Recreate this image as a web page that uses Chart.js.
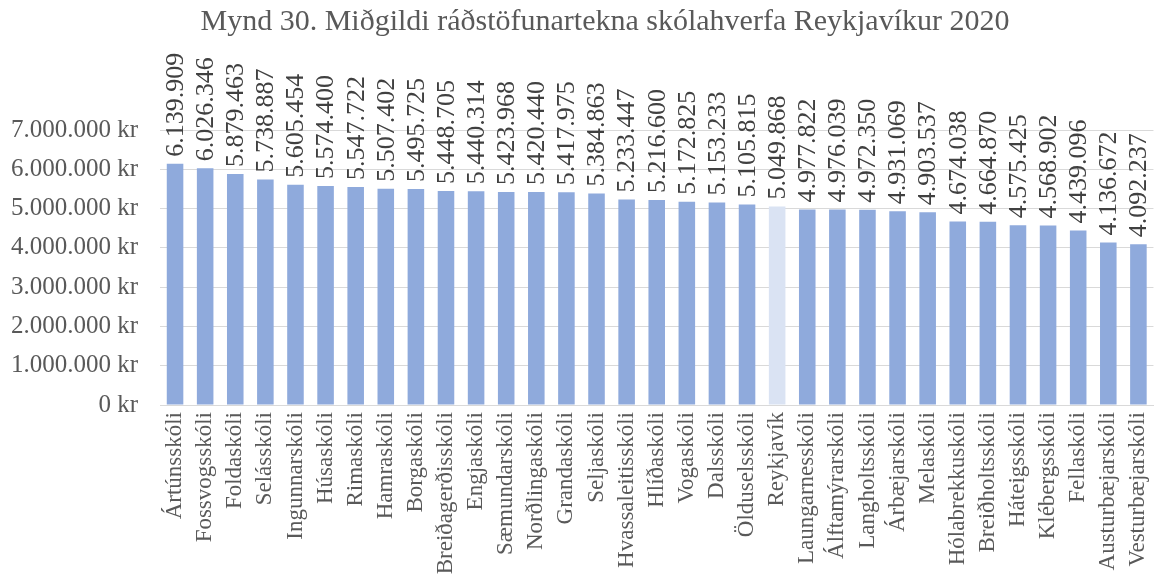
<!DOCTYPE html>
<html>
<head>
<meta charset="utf-8">
<script src="https://cdn.jsdelivr.net/npm/chart.js@4.4.0/dist/chart.umd.min.js"></script>
<style>
  html, body { margin: 0; padding: 0; background: #fff; }
  #wrap { width: 1173px; height: 578px; }
</style>
</head>
<body>
<div id="wrap"><canvas id="chart"></canvas></div>
<script>
// --- GÖGN ---
const titill = 'Mynd 30. Miðgildi ráðstöfunartekna skólahverfa Reykjavíkur 2020';
const skolar = [
  'Ártúnsskóli', 'Fossvogsskóli', 'Foldaskóli', 'Selásskóli', 'Ingunnarskóli', 'Húsaskóli',
  'Rimaskóli', 'Hamraskóli', 'Borgaskóli', 'Breiðagerðisskóli', 'Engjaskóli', 'Sæmundarskóli',
  'Norðlingaskóli', 'Grandaskóli', 'Seljaskóli', 'Hvassaleitisskóli', 'Hlíðaskóli', 'Vogaskóli',
  'Dalsskóli', 'Ölduselsskóli', 'Reykjavík', 'Laungarnesskóli', 'Álftamýrarskóli', 'Langholtsskóli',
  'Árbæjarskóli', 'Melaskóli', 'Hólabrekkuskóli', 'Breiðholtsskóli', 'Háteigsskóli', 'Klébergsskóli',
  'Fellaskóli', 'Austurbæjarskóli', 'Vesturbæjarskóli'
];
const midgildi = [
  6139909, 6026346, 5879463, 5738887, 5605454, 5574400,
  5547722, 5507402, 5495725, 5448705, 5440314, 5423968,
  5420440, 5417975, 5384863, 5233447, 5216600, 5172825,
  5153233, 5105815, 5049868, 4977822, 4976039, 4972350,
  4931069, 4903537, 4674038, 4664870, 4575425, 4568902,
  4439096, 4136672, 4092237
];
const yTicks = [0, 1000000, 2000000, 3000000, 4000000, 5000000, 6000000, 7000000];

const fontFam = '"Liberation Serif", "DejaVu Serif", serif';
const textColor = '#595959';
const fmt = v => String(Math.round(v)).replace(/\B(?=(\d{3})+(?!\d))/g, '.');

// Titill teiknaður sér svo hægt sé að stilla miðjuna
const titlePlugin = {
  id: 'myndTitill',
  afterDraw(chart) {
    const ctx = chart.ctx;
    ctx.save();
    ctx.font = '30px ' + fontFam;
    ctx.fillStyle = textColor;
    ctx.textAlign = 'center';
    ctx.textBaseline = 'alphabetic';
    ctx.fillText(titill, 605, 30);
    ctx.restore();
  }
};

// Lóðrétt gildi fyrir ofan súlur
const labelPlugin = {
  id: 'barLabels',
  afterDatasetsDraw(chart) {
    const ctx = chart.ctx;
    const meta = chart.getDatasetMeta(0);
    ctx.save();
    ctx.font = '26px ' + fontFam;
    ctx.fillStyle = '#404040';
    ctx.textAlign = 'left';
    ctx.textBaseline = 'middle';
    meta.data.forEach((bar, i) => {
      ctx.save();
      ctx.translate(bar.x, bar.y - 7);
      ctx.rotate(-Math.PI / 2);
      ctx.fillText(fmt(midgildi[i]), 0, 1);
      ctx.restore();
    });
    ctx.restore();
  }
};

new Chart(document.getElementById('chart'), {
  type: 'bar',
  data: {
    labels: skolar,
    datasets: [{
      data: midgildi,
      backgroundColor: skolar.map(s => s === 'Reykjavík' ? '#dae3f3' : '#8faadc'),
      barPercentage: 0.55,
      categoryPercentage: 1
    }]
  },
  options: {
    responsive: true,
    maintainAspectRatio: false,
    animation: false,
    layout: { padding: { left: 0, right: 0, top: 130, bottom: 0 } },
    plugins: {
      legend: { display: false },
      tooltip: { enabled: false },
      title: { display: false }
    },
    scales: {
      x: {
        grid: { display: false, drawTicks: false },
        border: { color: '#d9d9d9', width: 1 },
        ticks: {
          color: textColor,
          font: { family: fontFam, size: 23 },
          maxRotation: 90, minRotation: 90,
          autoSkip: false,
          padding: 7
        },
        afterFit: s => { s.height = 173; }
      },
      y: {
        min: 0, max: 7000000,
        afterBuildTicks: s => { s.ticks = yTicks.map(v => ({ value: v })); },
        grid: { color: '#d9d9d9', drawTicks: false },
        border: { display: false },
        ticks: {
          color: textColor,
          font: { family: fontFam, size: 25 },
          padding: 22,
          callback: v => fmt(v) + ' kr'
        },
        afterFit: s => { s.width = 160; }
      }
    }
  },
  plugins: [labelPlugin, titlePlugin]
});
</script>
</body>
</html>
